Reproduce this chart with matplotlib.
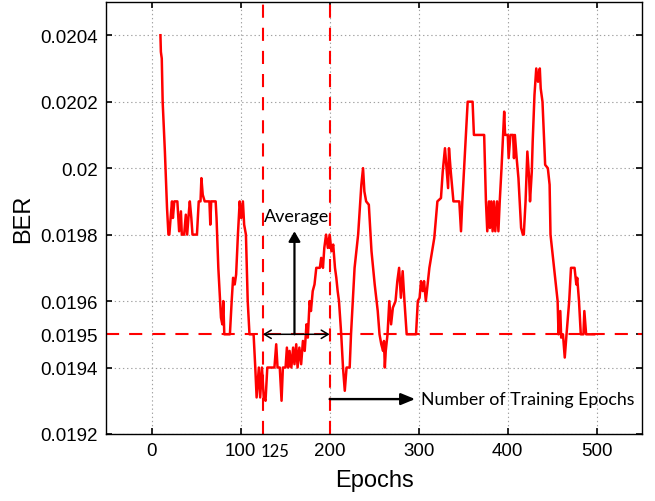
import matplotlib
matplotlib.use('Agg')
from matplotlib import pyplot as plt
from matplotlib import transforms

# BER vs epochs
epochs = [10, 10.5, 11.5, 12.5, 15, 17.4, 19,
          20, 22, 23, 24, 25.6, 29, 31, 33, 34, 36.6, 38.5, 40, 42, 43, 44.7, 46, 51, 53, 55, 56,
          57.5, 59.7, 65, 66, 67, 72, 73,
          75, 77, 78, 79.5, 80.6, 81.7, 88, 90, 91.6, 93.4, 95, 97, 99, 100.7, 102.6, 104, 106,
          108, 110, 114.6,
          116.5, 118, 120.5, 122, 124, 126, 128, 130, 138, 140, 141.5, 144, 146, 147.5, 150.5,
          152, 153.5, 155, 157, 159, 160.5, 162.5, 164, 166, 168, 170, 172, 174, 175.5, 177.5,
          179, 181, 183, 185, 189, 190.5, 192.5, 194, 196, 198, 200, 202, 204,
          206, 207.5, 209, 210.5, 213, 215, 217, 219, 222.5, 224, 226, 228, 232, 235.6, 237.5,
          239, 241, 244, 247, 250.6, 254, 256, 258, 260, 261, 262, 263, 265, 267, 269, 271, 274,
          276, 278, 280, 282, 284, 286.5, 297,
          299, 301, 302.6, 304.5, 306, 308, 310, 312, 315, 317.5, 321, 325, 327, 329.5, 331, 333,
          334, 336, 339, 345.6, 347.5, 349, 353, 355, 360.5, 362, 373.5, 375.5, 377, 379, 380,
          381.5, 383, 384.5, 386, 388, 389.5, 391, 393, 396, 397, 400, 401, 403, 406, 407, 408,
          410, 412, 415, 417, 418, 420, 422, 424, 425, 427, 428, 430, 432, 434, 436, 437, 439,
          442, 445, 447, 448, 452, 454, 456, 457, 459, 460, 462, 464, 466, 469, 471, 475, 477,
          478, 480, 482, 485, 486, 488, 497]
ber = [0.0204, 0.02035, 0.02033, 0.0202, 0.02005, 0.01988, 0.0198,
       0.0198, 0.01987, 0.0199, 0.01985, 0.0199, 0.0199, 0.01981, 0.01987, 0.0198, 0.0198,
       0.01986, 0.0198, 0.01987, 0.0199, 0.01985, 0.0198, 0.0198, 0.0199, 0.0199, 0.01997,
       0.01992, 0.0199, 0.0199, 0.01983, 0.0199, 0.0199, 0.01985,
       0.0197, 0.0196, 0.01955, 0.01953, 0.0196, 0.0195, 0.0195, 0.0196, 0.01967, 0.01965,
       0.01968, 0.0198, 0.0199, 0.01985, 0.0199, 0.01983, 0.0198,
       0.0196, 0.0195, 0.0195,
       0.0194, 0.01931, 0.0194, 0.01931, 0.0194, 0.01931, 0.0193, 0.0194, 0.0194, 0.01947,
       0.0194, 0.0194, 0.0193, 0.0194, 0.0194,
       0.01946, 0.0194, 0.01945, 0.0194, 0.01946, 0.01941, 0.01947, 0.0194, 0.01946, 0.01941,
       0.01948, 0.01945, 0.01953, 0.01949, 0.0196,
       0.01957, 0.01963, 0.01965, 0.0197, 0.0197, 0.01973, 0.0197, 0.01976, 0.0198, 0.01976,
       0.0198, 0.01975, 0.01977,
       0.0197, 0.01967, 0.01963, 0.0196, 0.0195, 0.0194, 0.01933, 0.0194, 0.0194, 0.0195,
       0.0196, 0.0197, 0.0198, 0.01995, 0.0200,
       0.01993, 0.0199, 0.01989, 0.01975, 0.01965, 0.01957, 0.0195, 0.01947, 0.01945, 0.01948,
       0.0194, 0.01945, 0.0195, 0.0196, 0.01953, 0.01958, 0.0196,
       0.01966, 0.0197, 0.01961, 0.01969, 0.0196, 0.0195, 0.0195,
       0.0196, 0.01961, 0.01966, 0.01963, 0.01966, 0.0196, 0.01965, 0.0197, 0.01975, 0.01979,
       0.0199, 0.01991, 0.01999, 0.02006, 0.02001, 0.01994,
       0.02006, 0.01999, 0.0199, 0.0199, 0.01981, 0.0199, 0.0201, 0.0202, 0.0202, 0.0201,
       0.0201, 0.0199, 0.01981, 0.0199, 0.01982,
       0.0199, 0.01981, 0.0199, 0.01981, 0.0199, 0.01981, 0.0199, 0.0200, 0.02017, 0.0201,
       0.0201, 0.02003, 0.0201, 0.0201, 0.02003, 0.0201,
       0.02003, 0.01997, 0.01982, 0.0198, 0.0198, 0.0199, 0.02005, 0.01997, 0.0199, 0.01999,
       0.02008, 0.02022, 0.0203, 0.02026, 0.0203, 0.02024, 0.0202,
       0.02001, 0.0200, 0.01995, 0.0198, 0.0197, 0.01965, 0.0196, 0.0195, 0.01957, 0.01949,
       0.0195, 0.01943, 0.0195, 0.0196, 0.0197, 0.0197, 0.01965,
       0.01967, 0.0196, 0.0195, 0.0195, 0.01957, 0.0195, 0.0195]

x_ticks = [0, 100, 200, 300, 400, 500]
y_ticks = [0.0192, 0.0194, 0.0195, 0.0196, 0.0198, 0.02, 0.0202, 0.0204]
y_labels = ['0.0192', '0.0194', '0.0195', '0.0196', '0.0198', '0.02', '0.0202', '0.0204']
avg_ber = 0.0195
window = [125, 200]

fig = plt.figure(figsize=(6.55, 5.02), dpi=100)
ax = fig.add_axes([0.162, 0.1335, 0.8185, 0.8605])

ax.plot(epochs, ber, color='#ff0000', lw=1.8, zorder=3)

# red dashed guides
dash = (0, (6.3, 4.8))
ax.axhline(avg_ber, color='#ff0000', lw=1.5, linestyle=dash, zorder=2)
for w in window:
    ax.axvline(w, color='#ff0000', lw=1.5, linestyle=dash, zorder=2)

ax.set_xlim(-51, 551)
ax.set_ylim(0.0192, 0.0205)
ax.set_xticks(x_ticks)
ax.set_yticks(y_ticks)
ax.set_yticklabels(y_labels)

ax.grid(True, linestyle=(0, (1.2, 2.5)), color='#a0a0a0', lw=0.8)
# no grid line at the average, the red dashed line sits there
ax.yaxis.get_gridlines()[y_ticks.index(avg_ber)].set_visible(False)
ax.set_axisbelow(True)

ax.tick_params(direction='in', top=True, right=True, length=4, width=1.2,
               labelsize=13.5, pad=6)
for lab in ax.get_xticklabels() + ax.get_yticklabels():
    lab.set_family('Liberation Sans')
for s in ax.spines.values():
    s.set_linewidth(1.0)

ax.set_xlabel('Epochs', fontsize=17, family='Liberation Sans', labelpad=7)
ax.set_ylabel('BER', fontsize=17, family='Liberation Sans', labelpad=4)

# annotations
ax.annotate('', xy=(window[1], avg_ber), xytext=(window[0], avg_ber),
            arrowprops=dict(arrowstyle='<->,head_length=0.5,head_width=0.3', lw=1.1, color='k',
                            shrinkA=0, shrinkB=0))
mid = (window[0] + window[1]) / 2 - 2
ax.annotate('', xy=(mid, 0.01981), xytext=(mid, avg_ber),
            arrowprops=dict(arrowstyle='-|>,head_length=0.6,head_width=0.35', lw=1.6, color='k',
                            shrinkA=0, shrinkB=0))
ax.text(mid + 2, 0.01984, 'Average', fontsize=13, family='Lato', ha='center', va='baseline')

ax.annotate('', xy=(296, 0.019305), xytext=(window[1], 0.019305),
            arrowprops=dict(arrowstyle='-|>,head_length=0.85,head_width=0.35', lw=1.7, color='k',
                            shrinkA=0, shrinkB=0))
ax.text(303, 0.019305, 'Number of Training Epochs', fontsize=12.8, family='Lato',
        ha='left', va='center')

trans = transforms.blended_transform_factory(ax.transData, ax.transAxes)
ax.text(122, -0.022, '125', transform=trans, fontsize=12, family='Lato', ha='left', va='top')

plt.savefig('out.png', dpi=100)
